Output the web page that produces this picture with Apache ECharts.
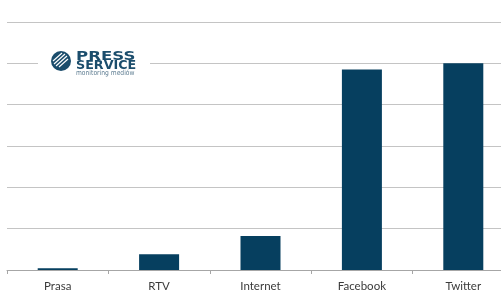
<!DOCTYPE html>
<html>
<head>
<meta charset="utf-8">
<script src="https://cdn.jsdelivr.net/npm/echarts@6/dist/echarts.min.js"></script>
<style>
html,body{margin:0;padding:0;background:#fff;overflow:hidden;width:501px;height:295px;}
#c{width:516px;height:295px;}
</style>
</head>
<body>
<div id="c"></div>
<script>
var categories = ['Prasa', 'RTV', 'Internet', 'Facebook', 'Twitter'];
var values = [4, 38, 82, 485, 500];
var axisMax = 600;
var axisStep = 100;

var chart = echarts.init(document.getElementById('c'), null, {renderer: 'canvas'});
chart.setOption({
  animation: false,
  backgroundColor: '#ffffff',
  grid: {left: 7, top: 22, width: 507, bottom: 25, containLabel: false},
  xAxis: {
    type: 'category',
    data: categories,
    axisLine: {lineStyle: {color: '#a6a6a6', width: 1}},
    axisTick: {show: true, length: 4, lineStyle: {color: '#a6a6a6'}},
    axisLabel: {color: '#3a3a3a', fontSize: 11.5, fontFamily: 'Lato', margin: 10}
  },
  yAxis: {
    type: 'value',
    min: 0,
    max: axisMax,
    interval: axisStep,
    axisLabel: {show: false},
    axisLine: {show: false},
    axisTick: {show: false},
    splitLine: {lineStyle: {color: '#c4c4c4', width: 1}}
  },
  series: [{
    type: 'bar',
    data: values,
    barWidth: 40,
    itemStyle: {color: '#063f5f'}
  }],
  graphic: [
    {type: 'rect', shape: {x: 38, y: 46, width: 112, height: 32}, style: {fill: '#ffffff'}, z: 100},
    {type: 'circle', shape: {cx: 61, cy: 61, r: 10}, style: {fill: '#1b4d6c'}, z: 101},
    {type: 'line', shape: {x1: 53, y1: 61, x2: 62, y2: 53}, style: {stroke: '#ffffff', lineWidth: 1.2}, z: 102},
    {type: 'line', shape: {x1: 54, y1: 64, x2: 65, y2: 54}, style: {stroke: '#ffffff', lineWidth: 1.2}, z: 102},
    {type: 'line', shape: {x1: 56, y1: 66, x2: 67, y2: 56}, style: {stroke: '#ffffff', lineWidth: 1.2}, z: 102},
    {type: 'line', shape: {x1: 59, y1: 67, x2: 68, y2: 59}, style: {stroke: '#ffffff', lineWidth: 1.2}, z: 102},
    {type: 'text', x: 76, y: 50.5, scaleX: 1.38, style: {text: 'PRESS', fill: '#1b4d6c', font: 'bold 12px "DejaVu Sans"'}, z: 101},
    {type: 'text', x: 76, y: 60, scaleX: 1.06, style: {text: 'SERVICE', fill: '#1b4d6c', font: 'bold 12px "DejaVu Sans"'}, z: 101},
    {type: 'text', x: 76, y: 69.5, scaleX: 0.86, style: {text: 'monitoring mediów', fill: '#5d7c91', font: '7px "DejaVu Sans"'}, z: 101}
  ]
});
</script>
</body>
</html>
